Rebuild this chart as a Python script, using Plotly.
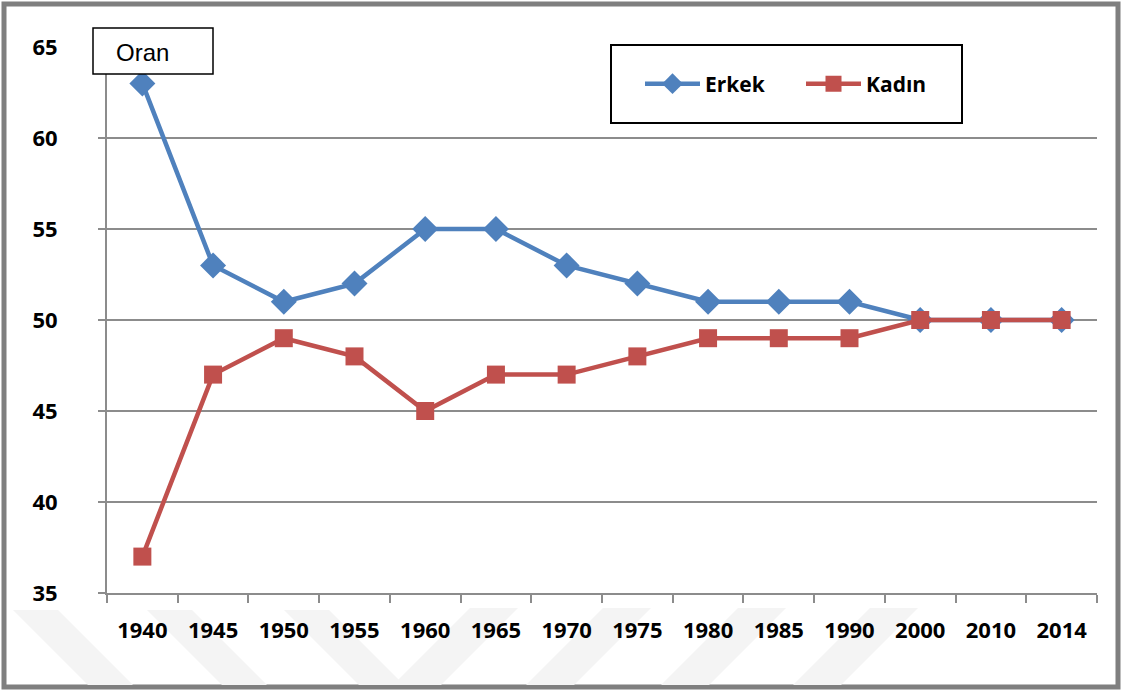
import plotly.graph_objects as go

years = ["1940", "1945", "1950", "1955", "1960", "1965", "1970", "1975",
         "1980", "1985", "1990", "2000", "2010", "2014"]
erkek = [63, 53, 51, 52, 55, 55, 53, 52, 51, 51, 51, 50, 50, 50]
kadin = [37, 47, 49, 48, 45, 47, 47, 48, 49, 49, 49, 50, 50, 50]
y_ticks = [35, 40, 45, 50, 55, 60, 65]

W, H = 1123, 691
L, R, T, B = 107, 1097, 47, 593


def px(x):
    return (x - L) / (R - L)


def py(y):
    return (B - y) / (B - T)


BLUE = "#4F81BD"
RED = "#C0504D"
GRID = "#8C8C8C"
FONT = "Open Sans"

fig = go.Figure()
fig.add_trace(go.Scatter(
    x=years, y=erkek, name="Erkek", mode="lines+markers",
    line=dict(color=BLUE, width=4.5),
    marker=dict(symbol="diamond", size=20, color=BLUE),
))
fig.add_trace(go.Scatter(
    x=years, y=kadin, name="Kadın", mode="lines+markers",
    line=dict(color=RED, width=4.5),
    marker=dict(symbol="square", size=18, color=RED),
))

shapes = []
# outer chart border
shapes.append(dict(type="rect", xref="paper", yref="paper",
                   x0=px(4), x1=px(1118), y0=py(687), y1=py(4),
                   line=dict(color="#7F7F7F", width=5), layer="below"))
# faint watermark stripes
for xs in [13, 147, 284]:
    path = "M {},{} L {},{} L {},{} L {},{} Z".format(
        px(xs), py(610), px(xs + 45), py(610), px(xs + 120), py(685), px(xs + 75), py(685))
    shapes.append(dict(type="path", xref="paper", yref="paper", path=path,
                       fillcolor="#F4F4F4", line=dict(width=0), layer="below"))
for xs in [470, 603, 738, 870]:
    path = "M {},{} L {},{} L {},{} L {},{} Z".format(
        px(xs), py(608), px(xs + 48), py(608), px(xs - 29), py(685), px(xs - 77), py(685))
    shapes.append(dict(type="path", xref="paper", yref="paper", path=path,
                       fillcolor="#F4F4F4", line=dict(width=0), layer="below"))
# "Oran" box
shapes.append(dict(type="rect", xref="paper", yref="paper",
                   x0=px(93), x1=px(213), y0=py(74), y1=py(28),
                   line=dict(color="black", width=1.5), fillcolor="white", layer="above"))
# legend box
shapes.append(dict(type="rect", xref="paper", yref="paper",
                   x0=px(611), x1=px(962), y0=py(123), y1=py(45),
                   line=dict(color="black", width=2), fillcolor="white", layer="above"))

fig.update_layout(
    width=W, height=H,
    margin=dict(l=L, r=W - R, t=T, b=H - B),
    paper_bgcolor="white", plot_bgcolor="white",
    shapes=shapes,
    showlegend=True,
    legend=dict(orientation="h", x=px(640), y=py(84), xanchor="left", yanchor="middle",
                bgcolor="rgba(0,0,0,0)", borderwidth=0,
                font=dict(family=FONT, size=21, color="black", weight="bold"),
                itemwidth=55, entrywidth=91, entrywidthmode="pixels"),
    annotations=[dict(text="Oran", xref="paper", yref="paper",
                      x=px(142), y=py(53), xanchor="center", yanchor="middle",
                      showarrow=False,
                      font=dict(family="Liberation Sans, Arial", size=24, color="black"))],
    xaxis=dict(type="category", range=[-0.5, len(years) - 0.5],
               showgrid=False, showline=True, linecolor=GRID, linewidth=2,
               ticks="outside", tickson="boundaries", ticklen=8, tickwidth=2, tickcolor=GRID,
               tickfont=dict(family=FONT, size=22, color="black", weight="bold"),
               ticklabelstandoff=17, zeroline=False),
    yaxis=dict(range=[35, 65], tickvals=y_ticks, ticktext=[str(v) for v in y_ticks],
               showgrid=True, gridcolor=GRID, gridwidth=2,
               showline=True, linecolor=GRID, linewidth=2,
               ticks="outside", ticklen=7, tickwidth=2, tickcolor=GRID,
               tickfont=dict(family=FONT, size=22, color="black", weight="bold"),
               ticklabelstandoff=36, zeroline=False),
)

fig.write_html(
    "out.html",
    config={"displayModeBar": False},
    post_script="document.body.style.margin='0';document.body.style.overflow='hidden';",
)
